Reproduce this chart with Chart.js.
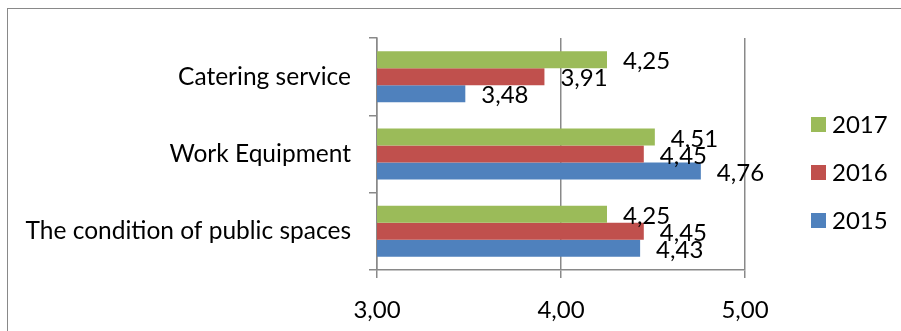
<!DOCTYPE html>
<html>
<head>
<meta charset="utf-8">
<script src="https://cdn.jsdelivr.net/npm/chart.js@4.4.1/dist/chart.umd.min.js"></script>
<style>
  html, body { margin: 0; padding: 0; background: #fff; overflow: hidden; }
  #wrap { position: relative; width: 901px; height: 331px; overflow: hidden; }
  #frame { position: absolute; left: 7px; top: 8px; width: 920px; height: 340px; border: 1px solid #898989; }
  #chart { position: absolute; left: 0; top: 0; }
</style>
</head>
<body>
<div id="wrap">
  <div id="frame"></div>
  <canvas id="chart" width="901" height="331"></canvas>
</div>
<script>
// average scores per area, one list per year
const categories = ['Catering service', 'Work Equipment', 'The condition of public spaces'];
const years = ['2017', '2016', '2015'];
const scores2017 = [4.25, 4.51, 4.25];
const scores2016 = [3.91, 4.45, 4.45];
const scores2015 = [3.48, 4.76, 4.43];
const axisMin = 3;
const axisMax = 5;
const axisStep = 1;

const COLORS = ['#9bbb59', '#c0504d', '#4f81bd'];
const LINE = '#898989';
const FONT = { family: 'Lato, "Open Sans", sans-serif', size: 24 };
const fmt = v => Number(v).toFixed(2).replace('.', ',');

// numbers printed just past the end of each bar
const valueLabels = {
    id: 'valueLabels',
    afterDatasetsDraw(chart) {
        const ctx = chart.ctx;
        ctx.save();
        ctx.font = `${FONT.size}px ${FONT.family}`;
        ctx.fillStyle = '#000';
        ctx.textAlign = 'left';
        ctx.textBaseline = 'middle';
        chart.data.datasets.forEach((ds, i) => {
            chart.getDatasetMeta(i).data.forEach((bar, j) => {
                ctx.fillText(fmt(ds.data[j]), bar.x + 16, bar.y + 2);
            });
        });
        ctx.restore();
    }
};

// legend column on the right side
const sideLegend = {
    id: 'sideLegend',
    afterDraw(chart) {
        const ctx = chart.ctx;
        const x = chart.chartArea.right + 66;
        const top = 124;
        ctx.save();
        ctx.font = `${FONT.size}px ${FONT.family}`;
        ctx.textAlign = 'left';
        ctx.textBaseline = 'middle';
        chart.data.datasets.forEach((ds, i) => {
            const y = top + i * 48;
            ctx.fillStyle = ds.backgroundColor;
            ctx.fillRect(x, y - 7, 15, 15);
            ctx.fillStyle = '#000';
            ctx.fillText(ds.label, x + 21, y + 1);
        });
        ctx.restore();
    }
};

new Chart(document.getElementById('chart'), {
    type: 'bar',
    data: {
        labels: categories,
        datasets: [
            { label: years[0], data: scores2017, backgroundColor: COLORS[0] },
            { label: years[1], data: scores2016, backgroundColor: COLORS[1] },
            { label: years[2], data: scores2015, backgroundColor: COLORS[2] }
        ]
    },
    options: {
        indexAxis: 'y',
        responsive: false,
        animation: false,
        devicePixelRatio: 1,
        categoryPercentage: 0.66,
        barPercentage: 1,
        layout: { padding: { left: 0, top: 38, right: 156, bottom: 0 } },
        plugins: { legend: { display: false }, tooltip: { enabled: false } },
        scales: {
            x: {
                min: axisMin,
                max: axisMax,
                afterFit: s => { s.height = 61; },
                ticks: { stepSize: axisStep, callback: v => fmt(v), color: '#000', font: FONT, padding: 18 },
                grid: { color: LINE, lineWidth: 1.5, tickLength: 8 },
                border: { color: LINE, width: 1.5 }
            },
            y: {
                afterFit: s => { s.width = 377; },
                ticks: { color: '#000', font: { family: FONT.family, size: 24.5 }, padding: 18 },
                grid: { drawOnChartArea: false, color: LINE, lineWidth: 1.5, tickLength: 8 },
                border: { color: LINE, width: 1.5 }
            }
        }
    },
    plugins: [valueLabels, sideLegend]
});
</script>
</body>
</html>
